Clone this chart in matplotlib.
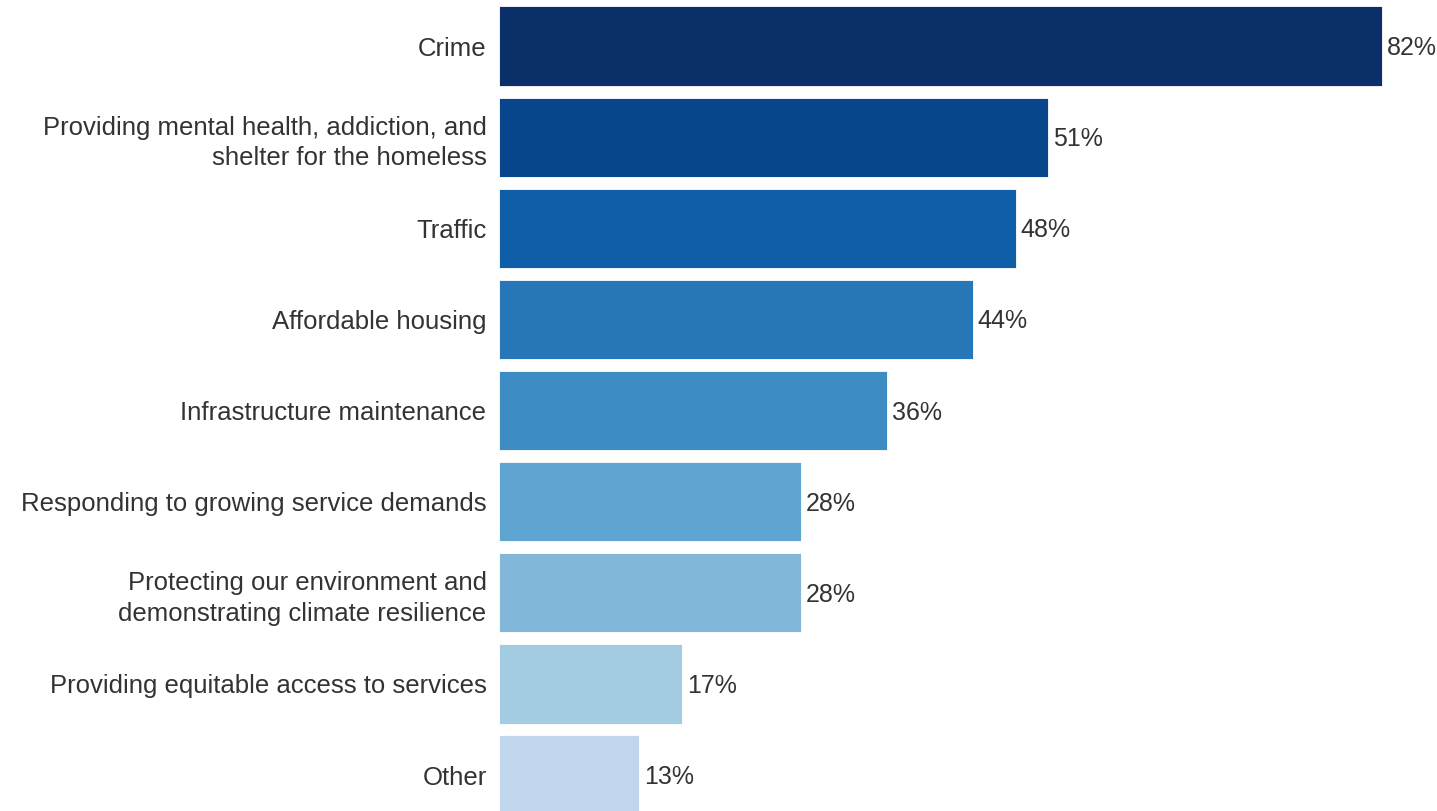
import matplotlib
matplotlib.use("Agg")
import matplotlib.pyplot as plt

# -*- survey data: top issues facing the city
issues = [
    "Crime",
    "Providing mental health, addiction, and\nshelter for the homeless",
    "Traffic",
    "Affordable housing",
    "Infrastructure maintenance",
    "Responding to growing service demands",
    "Protecting our environment and\ndemonstrating climate resilience",
    "Providing equitable access to services",
    "Other",
]
shares = [82, 51, 48, 44, 36, 28, 28, 17, 13]
colors = ["#0b2f69", "#08468b", "#115ea8", "#2777b8", "#3d8dc4",
          "#5ea6d1", "#81b8da", "#a3cbe2", "#bfd6ec"]

plt.rcParams["font.family"] = ["Liberation Sans", "DejaVu Sans"]

fig = plt.figure(figsize=(14.37, 8.11), dpi=100)
ax = fig.add_axes([499 / 1437, 0.0, 1 - 499 / 1437, 1.0])

ypos = list(range(len(issues)))
ax.barh(ypos, shares, height=0.87, color=colors,
        edgecolor="white", linewidth=0.6)

for y, v in zip(ypos, shares):
    ax.annotate(f"{v}%", (v, y), xytext=(3.5, -1.5), textcoords="offset points",
                va="center", ha="left", fontsize=18, color="#333333")

ax.set_yticks(ypos)
ax.set_yticklabels(issues, fontsize=18.5, color="#333333", linespacing=1.35)
ax.tick_params(axis="y", length=0, pad=9)
ax.set_xticks([])
ax.set_xlim(0, 87.1)
ax.set_ylim(8.395, -0.505)
for s in ax.spines.values():
    s.set_visible(False)

fig.savefig("out.png", dpi=100)
